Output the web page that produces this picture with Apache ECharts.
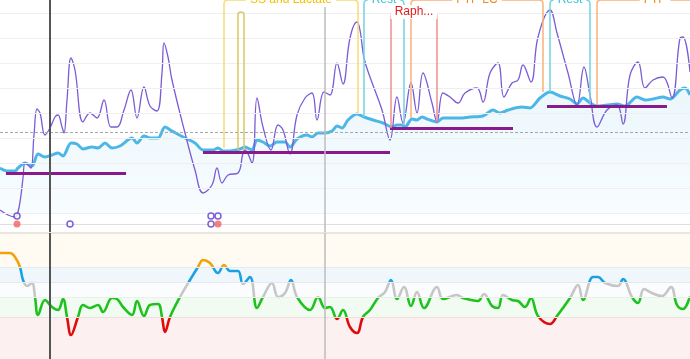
<!DOCTYPE html>
<html>
<head>
<meta charset="utf-8">
<style>html,body{margin:0;padding:0;background:#fff;}#c{width:690px;height:359px;}</style>
<script src="https://cdn.jsdelivr.net/npm/echarts@6/dist/echarts.min.js"></script>
</head>
<body>
<div id="c"></div>
<script>
// ---------- DATA ----------
// smoothed power (blue)
const blueX = [0,7,15,18,25,32,38,45,52,58,63,71,77,83,92,98,105,112,120,132,137,144,150,158,165,172,185,195,203,213,218,223,230,240,245,252,257,263,270,277,285,290,297,307,312,318,325,332,337,342,348,357,364,373,383,392,397,402,405,412,417,422,427,437,443,453,460,470,483,493,500,508,522,530,540,550,560,570,577,583,590,597,607,617,625,637,645,653,663,670,680,685,690];
const blueVals = [90,84,84,90,100,94,118,112,116,120,114,140,138,128,132,130,140,130,134,150,140,154,150,150,172,164,150,140,126,126,130,124,124,128,132,126,146,142,134,142,142,132,148,156,152,160,160,164,174,170,186,198,192,186,180,172,176,176,172,188,186,192,188,182,190,190,190,192,194,206,200,206,212,210,230,242,234,228,218,230,220,214,216,218,214,232,226,228,232,228,246,250,236];
// raw power (purple)
const purpleX = [0,8,15,18,21,23,25,28,31,34,37,40,45,50,55,58,62,64,67,71,75,83,90,97,104,111,117,124,131,137,144,150,157,162,164,168,172,185,195,203,212,217,222,228,238,243,245,252,257,263,271,278,283,290,297,305,312,317,324,330,337,343,350,357,360,364,370,382,390,397,403,411,417,423,432,437,443,450,458,465,477,483,490,498,504,512,518,523,531,538,550,557,568,577,584,590,597,607,617,623,630,638,645,653,663,672,680,683,690];
const purpleVals = [6,-4,-8,2,36,70,100,96,90,156,208,200,156,170,192,196,172,160,226,310,286,182,200,190,226,172,172,206,246,190,252,214,204,280,340,312,266,160,86,40,56,90,60,76,80,120,126,100,230,172,126,176,166,118,196,230,240,186,242,236,300,258,350,382,366,310,272,206,146,232,180,260,200,280,220,182,240,232,220,240,250,222,280,300,232,260,266,296,262,352,406,360,280,216,292,236,172,206,216,178,276,302,250,266,272,230,350,352,282];
// lower panel metric
const lowX = [0,10,15,20,23,27,32,35,38,45,52,58,63,67,71,78,83,90,98,103,112,117,123,132,137,144,150,158,162,165,170,180,190,198,203,210,218,224,230,238,243,250,257,263,272,278,285,291,297,310,318,325,330,337,343,350,357,363,370,378,385,391,397,404,411,417,424,437,443,457,463,478,484,492,498,503,512,518,525,531,538,550,557,570,578,583,593,598,605,618,623,632,638,644,652,662,671,677,683,690];
const lowVals = [106,106,102,92,79,73,76,62,44,59,52,49,60,42,24,42,54,51,54,47,61,60,52,44,58,43,54,55,42,27,42,62,79,92,99,96,86,94,88,88,75,82,51,62,76,62,66,79,62,49,62,51,52,40,49,32,26,42,49,61,67,79,60,72,53,67,51,72,60,64,61,58,65,53,51,64,59,58,52,61,43,35,43,61,74,59,82,82,76,73,80,62,56,70,66,63,72,54,50,63];
// interval averages
const segStart = [6,203,390,547];
const segEnd = [126,390,513,667];
const segVal = [80,122,170,214];
// threshold (FTP)
const ftpValue = 162;
// events
const hollowX = [17,70,211,218,211];
const hollowVals = [-6,-22,-6,-6,-22];
const redX = [17,218];
const redVals = [-22,-22];
// cursor lines
const cursorX = [50,325];
// intervals / brackets
const brStart = [224,238,364,391,411,550,597];
const brEnd = [358,244,404,437,543,590,713];
const brStartVal = [130,126,192,170,190,242,216];
const brEndVal = [200,126,176,182,242,216,216];
const brTopVal = [426,402,426,402,426,426,426];
const brNames = ['SS and Lactate','','Rest','Raph...','FTP LC','Rest','FTP'];
const brLine = ['#f8da74','#d8c866','#72d4e4','#f08e8e','#f9b27a','#72d4e4','#f9b27a'];
const brText = ['#f2c200','#d8c866','#2ec3da','#e61b1b','#f2891e','#2ec3da','#f2891e'];
// axis ticks (top panel gridlines) and lower-panel zones
const topTicks = [0,50,100,150,200,250,300,350,400];
const eventBase = -22;
const zoneEdges = [0,42,62,77,92,126];
const zoneColors = ['#fdf0f0','#f1fbf1','#fafcfd','#eff7fc','#fffaf2'];
const zoneLineColors = ['#f3dede','#e8f2e8','#e6eaee','#e4ecf1','#ebe6dd'];
const lineColors = ['#e00b0b','#1ec21e','#c6c6c6','#1ba1e2','#f0a30a'];

// ---------- BUILD ----------
const zip = (xs, ys) => xs.map((x, i) => [x, ys[i]]);
const chart = echarts.init(document.getElementById('c'), null, {renderer: 'canvas'});

const zoneAreas = [];
const zoneLines = [];
for (let i = 0; i < zoneColors.length; i++) {
  zoneAreas.push([{yAxis: zoneEdges[i], itemStyle: {color: zoneColors[i]}}, {yAxis: zoneEdges[i + 1]}]);
}
for (let i = 1; i < zoneEdges.length; i++) {
  zoneLines.push({yAxis: zoneEdges[i], lineStyle: {color: zoneLineColors[i - 1], width: i === zoneEdges.length - 1 ? 2 : 1, type: 'solid'}});
}
const pieces = [];
for (let i = 0; i < lineColors.length; i++) {
  const p = {color: lineColors[i]};
  if (i > 0) p.gte = zoneEdges[i];
  if (i < lineColors.length - 1) p.lt = zoneEdges[i + 1];
  pieces.push(p);
}

const brData = brStart.map((s, i) => [s, brEnd[i], brStartVal[i], brEndVal[i], brTopVal[i]]);

function renderBracket(params, api) {
  const i = params.dataIndex;
  const pS = api.coord([api.value(0), api.value(2)]);
  const pE = api.coord([api.value(1), api.value(3)]);
  const tS = api.coord([api.value(0), api.value(4)]);
  const tE = api.coord([api.value(1), api.value(4)]);
  const r = Math.min(4, (tE[0] - tS[0]) / 2);
  const yt = tS[1];
  const d = 'M' + pS[0] + ' ' + pS[1] + ' L' + tS[0] + ' ' + (yt + r) +
    ' Q' + tS[0] + ' ' + yt + ' ' + (tS[0] + r) + ' ' + yt +
    ' L' + (tE[0] - r) + ' ' + yt +
    ' Q' + tE[0] + ' ' + yt + ' ' + tE[0] + ' ' + (yt + r) +
    ' L' + pE[0] + ' ' + pE[1];
  const children = [{
    type: 'path',
    shape: {pathData: d},
    style: {fill: 'none', stroke: brLine[i], lineWidth: 1.5}
  }];
  if (brNames[i]) {
    children.push({
      type: 'text',
      z2: 10,
      style: {
        text: brNames[i], x: (tS[0] + tE[0]) / 2, y: yt,
        align: 'center', verticalAlign: 'middle',
        fill: brText[i], font: '12px "Liberation Sans", Arial, sans-serif',
        backgroundColor: '#fff', padding: [1, 4]
      }
    });
  }
  return {type: 'group', children: children};
}

const vLines = cursorX.map((x, i) => ({xAxis: x, lineStyle: {color: i === 0 ? '#555' : '#bcbcbc', width: i === 0 ? 2 : 1.5, type: 'solid'}}));

const option = {
  animation: false,
  backgroundColor: '#fff',
  grid: [
    {left: 0, right: 0, top: 0, height: 233},
    {left: 0, right: 0, top: 233, bottom: 0}
  ],
  xAxis: [
    {type: 'value', gridIndex: 0, min: 0, max: 690, show: false},
    {type: 'value', gridIndex: 1, min: 0, max: 690, show: false}
  ],
  yAxis: [
    {type: 'value', gridIndex: 0, min: -40, max: 426, show: false, splitLine: {show: false}},
    {type: 'value', gridIndex: 1, min: 0, max: 126, show: false, splitLine: {show: false}}
  ],
  visualMap: {
    type: 'piecewise', show: false, seriesIndex: 5, dimension: 1, pieces: pieces
  },
  series: [
    { // 0 gridlines + threshold + averages
      type: 'line', xAxisIndex: 0, yAxisIndex: 0, data: [], silent: true,
      markLine: {
        silent: true, symbol: ['none', 'none'], label: {show: false},
        data: topTicks.map(v => ({yAxis: v, lineStyle: {color: '#efefef', width: 1, type: 'solid'}}))
          .concat([{yAxis: eventBase, lineStyle: {color: '#dedede', width: 1, type: 'solid'}}])
          .concat([{yAxis: ftpValue, lineStyle: {color: '#a8a8a8', width: 1.2, type: [3, 2]}}])
      }
    },
    { // 1 smoothed power
      type: 'line', xAxisIndex: 0, yAxisIndex: 0, data: zip(blueX, blueVals),
      smooth: 0.3, showSymbol: false, symbol: 'none', z: 3,
      lineStyle: {color: '#4cb7e7', width: 3},
      areaStyle: {
        origin: 0,
        color: new echarts.graphic.LinearGradient(0, 0, 0, 1, [
          {offset: 0, color: 'rgba(76,183,231,0.16)'},
          {offset: 1, color: 'rgba(76,183,231,0.06)'}
        ])
      }
    },
    { // 2 raw power
      type: 'line', xAxisIndex: 0, yAxisIndex: 0, data: zip(purpleX, purpleVals),
      smooth: 0.4, showSymbol: false, symbol: 'none', z: 4, clip: false,
      lineStyle: {color: '#7b5cd6', width: 1.3}
    },
    { // 3 brackets
      type: 'custom', xAxisIndex: 0, yAxisIndex: 0, data: brData, renderItem: renderBracket, z: 5, silent: true
    },
    { // 4 averages + cursors top
      type: 'line', xAxisIndex: 0, yAxisIndex: 0, data: [], z: 6,
      markLine: {
        silent: true, symbol: ['none', 'none'], label: {show: false},
        data: segStart.map((s, i) => [
          {coord: [s, segVal[i]], lineStyle: {color: '#891a8c', width: 3, type: 'solid'}},
          {coord: [segEnd[i], segVal[i]]}
        ]).concat(vLines)
      }
    },
    { // 5 lower metric
      type: 'line', xAxisIndex: 1, yAxisIndex: 1, data: zip(lowX, lowVals),
      smooth: 0.4, showSymbol: false, symbol: 'none', z: 4,
      lineStyle: {width: 2.6},
      markArea: {silent: true, data: zoneAreas},
      markLine: {silent: true, symbol: ['none', 'none'], label: {show: false}, data: zoneLines}
    },
    { // 6 cursors bottom
      type: 'line', xAxisIndex: 1, yAxisIndex: 1, data: [], z: 6,
      markLine: {silent: true, symbol: ['none', 'none'], label: {show: false}, data: vLines}
    },
    { // 7 hollow events
      type: 'scatter', xAxisIndex: 0, yAxisIndex: 0, data: zip(hollowX, hollowVals),
      symbolSize: 6, z: 7, clip: false,
      itemStyle: {color: '#fff', borderColor: '#5a3bd2', borderWidth: 1.5}
    },
    { // 8 red events
      type: 'scatter', xAxisIndex: 0, yAxisIndex: 0, data: zip(redX, redVals),
      symbolSize: 7, z: 7, clip: false,
      itemStyle: {color: '#f2615e'}
    }
  ]
};
chart.setOption(option);
</script>
</body>
</html>
